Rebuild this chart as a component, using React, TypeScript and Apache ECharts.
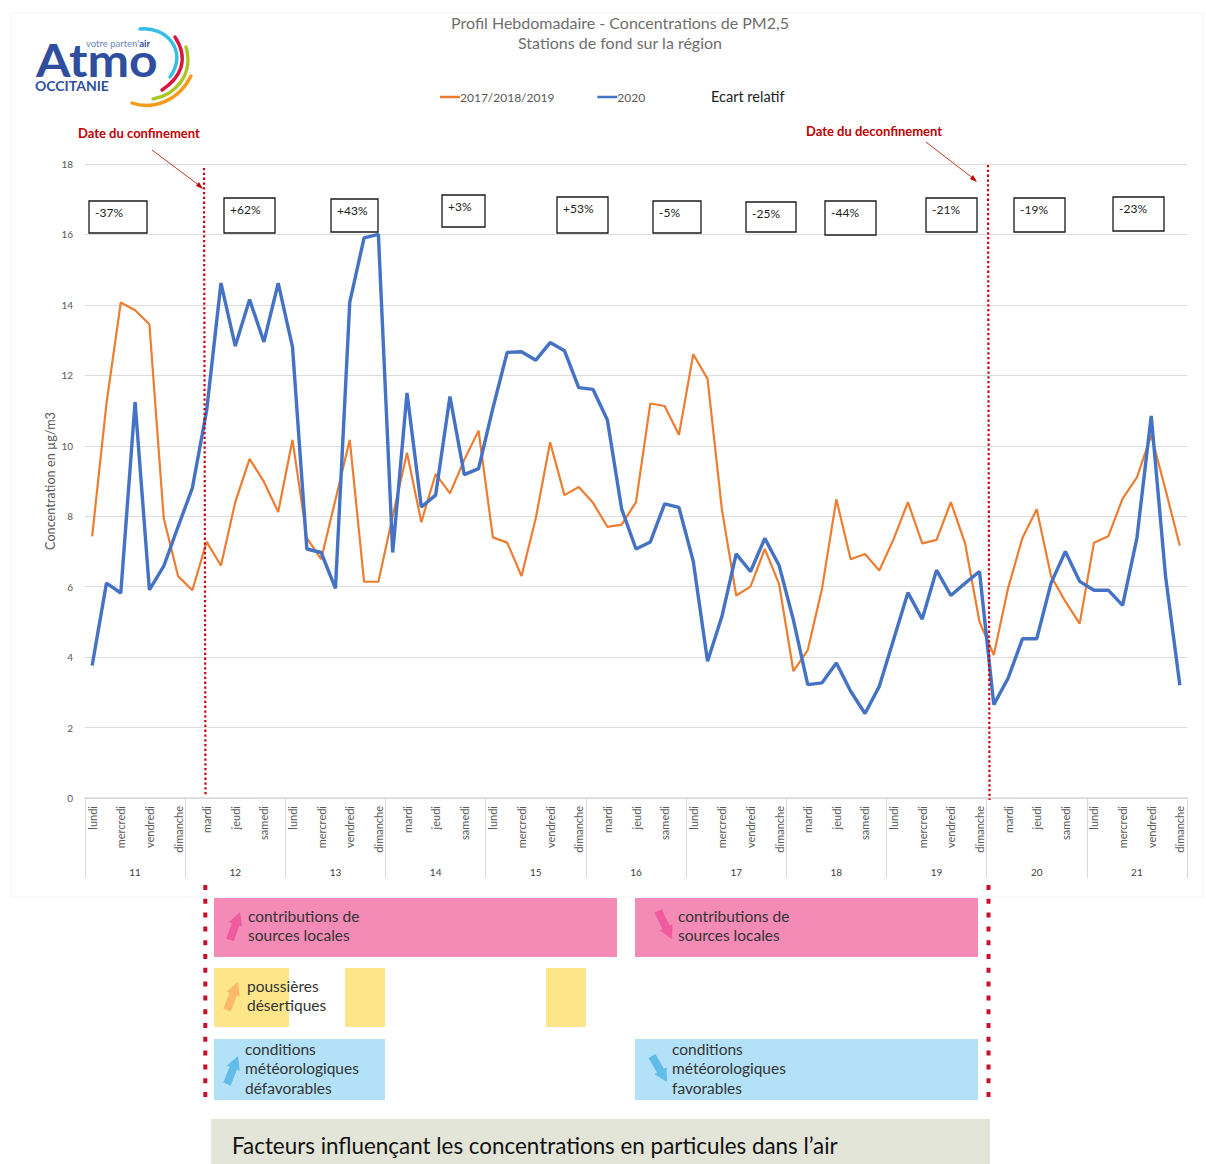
import React, { useEffect, useRef } from "react";
import * as echarts from "echarts";

const dayNames = ["lundi", "mardi", "mercredi", "jeudi", "vendredi", "samedi", "dimanche"];
const weeks = ["11", "12", "13", "14", "15", "16", "17", "18", "19", "20", "21"];
const days = weeks.flatMap((w) => dayNames.map((d) => `${d}|${w}`));

const reference = [
  7.43, 11.2, 14.07, 13.85, 13.45, 7.95, 6.3,
  5.9, 7.27, 6.6, 8.4, 9.63, 8.98, 8.12,
  10.17, 7.38, 6.78, 8.47, 10.17, 6.14, 6.14,
  8.0, 9.8, 7.83, 9.2, 8.65, 9.6, 10.43,
  7.4, 7.25, 6.3, 7.95, 10.1, 8.6, 8.83,
  8.38, 7.7, 7.76, 8.4, 11.2, 11.13, 10.31,
  12.6, 11.9, 8.2, 5.75, 6.0, 7.07, 6.07,
  3.6, 4.2, 5.95, 8.48, 6.78, 6.93, 6.46,
  7.35, 8.4, 7.23, 7.33, 8.4, 7.22, 5.0,
  4.06, 5.96, 7.38, 8.2, 6.3, 5.58, 4.95,
  7.25, 7.43, 8.5, 9.1, 10.3, 8.75, 7.16,
];
const year2020 = [
  3.76, 6.1, 5.82, 11.24, 5.91, 6.58, 7.7,
  8.8, 11.0, 14.62, 12.83, 14.15, 12.95, 14.62,
  12.8, 7.07, 6.97, 5.95, 14.08, 15.9, 16.0,
  6.97, 11.5, 8.26, 8.6, 11.4, 9.18, 9.35,
  11.07, 12.65, 12.67, 12.43, 12.93, 12.7, 11.65,
  11.6, 10.73, 8.2, 7.07, 7.27, 8.35, 8.25,
  6.72, 3.88, 5.15, 6.93, 6.43, 7.37, 6.6,
  5.05, 3.22, 3.27, 3.83, 3.03, 2.4, 3.17,
  4.5, 5.83, 5.08, 6.47, 5.75, 6.1, 6.43,
  2.65, 3.4, 4.52, 4.52, 6.1, 7.0, 6.15,
  5.9, 5.9, 5.47, 7.38, 10.85, 6.3, 3.2,
];
const relativeGaps = ["-37%", "+62%", "+43%", "+3%", "+53%", "-5%", "-25%", "-44%", "-21%", "-19%", "-23%"];
const gapBoxes = [
  [89, 201, 58, 32], [224, 198, 51, 35], [331, 199, 47, 33], [442, 195, 43, 32],
  [557, 197, 51, 36], [653, 201, 48, 32], [746, 202, 50, 30], [825, 201, 51, 34],
  [926, 198, 51, 34], [1014, 198, 51, 34], [1113, 197, 51, 34],
];

const FONT = "Lato";
const PINK = "#f38bb6";
const YELLOW = "#fde68a";
const SKY = "#b3e2f8";
const BLUE_LOGO = "#2f4f9e";
const ORANGE = "#ed7d31";
const BLUE = "#4472c4";

function arrow(x0: number, y0: number, x1: number, y1: number, fill: string, shaft = 4, head = 7, len = 13) {
  const d = Math.hypot(x1 - x0, y1 - y0);
  const ux = (x1 - x0) / d, uy = (y1 - y0) / d;
  const px = -uy, py = ux;
  const bx = x1 - ux * len, by = y1 - uy * len;
  return {
    type: "polygon", z: 20,
    shape: {
      points: [
        [x0 + px * shaft, y0 + py * shaft], [bx + px * shaft, by + py * shaft],
        [bx + px * head, by + py * head], [x1, y1],
        [bx - px * head, by - py * head], [bx - px * shaft, by - py * shaft],
        [x0 - px * shaft, y0 - py * shaft],
      ],
    },
    style: { fill },
  };
}
const rect = (x: number, y: number, w: number, h: number, fill: string) => ({
  type: "rect", z: 10, shape: { x, y, width: w, height: h }, style: { fill },
});
const label = (x: number, y: number, text: string, extra: any = {}) => ({
  type: "text", z: 30, x, y,
  style: { text, fontFamily: FONT, fontSize: 15.5, fill: "#333333", lineHeight: 19.5, ...extra },
});
const curve = (p: number[], stroke: string) => ({
  type: "bezierCurve", z: 20,
  shape: { x1: p[0], y1: p[1], cpx1: p[2], cpy1: p[3], cpx2: p[4], cpy2: p[5], x2: p[6], y2: p[7] },
  style: { stroke, lineWidth: 3.4, fill: "none", lineCap: "round" },
});
const vline = (x0: number, y0: number, x1: number, y1: number, lineWidth: number, lineDash: number[], stroke: string) => ({
  type: "line", z: 15, shape: { x1: x0, y1: y0, x2: x1, y2: y1 },
  style: { stroke, lineWidth, lineDash },
});

export default function App() {
  const ref = useRef<HTMLDivElement>(null);
  useEffect(() => {
    const chart = echarts.init(ref.current!, undefined, { renderer: "svg" });
    const graphic: any[] = [
      { type: "rect", z: 0, shape: { x: 11, y: 13, width: 1192, height: 884 }, style: { fill: "none", stroke: "#f4f4f4" } },
      // logo
      { type: "text", z: 20, x: 36, y: 47, scaleX: 1.08, style: { text: "Atmo", fontFamily: FONT, fontWeight: "bold", fontSize: 46, lineHeight: 25, fill: BLUE_LOGO } },
      { type: "text", z: 21, x: 35, y: 79, style: { text: "OCCITANIE", fontFamily: FONT, fontWeight: "bold", fontSize: 14, lineHeight: 12, fill: BLUE_LOGO } },
      {
        type: "text", z: 21, x: 86, y: 40,
        style: {
          text: "{a|votre parten'}{b|air}", fontFamily: FONT, fontSize: 9.5, fill: "#6f86bd",
          rich: { a: { fontFamily: FONT, fontSize: 9.5, lineHeight: 7, fill: "#6f86bd" }, b: { fontFamily: FONT, fontSize: 9.5, lineHeight: 7, fontWeight: "bold", fill: BLUE_LOGO } },
        },
      },
      curve([140, 29, 165, 26, 189, 50, 170, 77], "#35bde8"),
      curve([175, 37, 190, 60, 180, 78, 162, 90], "#d9163f"),
      curve([186, 47, 194, 75, 175, 95, 153, 99], "#a9c71f"),
      curve([191, 76, 178, 102, 152, 110, 132, 103], "#f59a1b"),
      // annotations
      { type: "text", z: 30, x: 78, y: 126, style: { text: "Date du confinement", fontFamily: FONT, fontWeight: "bold", fontSize: 13, fill: "#c00000" } },
      { type: "text", z: 30, x: 806, y: 124, style: { text: "Date du deconfinement", fontFamily: FONT, fontWeight: "bold", fontSize: 13, fill: "#c00000" } },
      { type: "line", z: 30, shape: { x1: 152, y1: 150, x2: 200, y2: 186 }, style: { stroke: "#c0392b", lineWidth: 1 } },
      { type: "polygon", z: 30, shape: { points: [[203, 189], [196, 186], [199, 182]] }, style: { fill: "#c00000" } },
      { type: "line", z: 30, shape: { x1: 926, y1: 142, x2: 974, y2: 179 }, style: { stroke: "#c0392b", lineWidth: 1 } },
      { type: "polygon", z: 30, shape: { points: [[977, 182], [970, 179], [973, 175]] }, style: { fill: "#c00000" } },
      // confinement lines
      vline(204, 168, 205.5, 796, 2.2, [2.3, 2.5], "#c8000f"),
      vline(988, 165, 989.5, 800, 2.2, [2.3, 2.5], "#c8000f"),
      vline(205.3, 885, 205.3, 1105, 4, [5, 8.8], "#c8102e"),
      vline(988.5, 885, 988.5, 1105, 4, [5, 8.8], "#c8102e"),
      { type: "text", z: 30, x: 711, y: 89, style: { text: "Ecart relatif", fontFamily: FONT, fontSize: 14.5, fill: "#222222" } },
      // factor panels
      rect(214, 898, 403, 59, PINK), rect(635, 898, 343, 59, PINK),
      rect(214, 968, 75, 59, YELLOW), rect(345, 968, 40, 59, YELLOW), rect(546, 968, 40, 59, YELLOW),
      rect(214, 1039, 171, 61, SKY), rect(635, 1039, 343, 61, SKY),
      arrow(230, 940, 240, 912, "#ef5b9c"), arrow(658, 911, 672, 939, "#ef5b9c"),
      arrow(227, 1010, 238, 982, "#fdb96a"),
      arrow(227, 1084, 238, 1056, "#62bcea"), arrow(652, 1056, 667, 1082, "#62bcea"),
      label(248, 906, "contributions de\nsources locales"),
      label(678, 906, "contributions de\nsources locales"),
      label(247, 976, "poussières\ndésertiques"),
      label(245, 1039, "conditions\nmétéorologiques\ndéfavorables"),
      label(672, 1039, "conditions\nmétéorologiques\nfavorables"),
      rect(211, 1119, 779, 45, "#e3e5d8"),
      { type: "text", z: 30, x: 232, y: 1134, style: { text: "Facteurs influençant les concentrations en particules dans l’air", fontFamily: FONT, fontSize: 22.4, fill: "#111111" } },
    ];
    relativeGaps.forEach((t, i) => {
      const [x, y, w, h] = gapBoxes[i];
      graphic.push({ type: "rect", z: 25, shape: { x, y, width: w, height: h }, style: { fill: "#ffffff", stroke: "#1a1a1a", lineWidth: 1.3 } });
      graphic.push({ type: "text", z: 26, x: x + 6, y: y + 5, style: { text: t, fontFamily: FONT, fontSize: 12, fill: "#222222" } });
    });

    chart.setOption({
      animation: false,
      backgroundColor: "#ffffff",
      textStyle: { fontFamily: FONT },
      title: {
        text: "Profil Hebdomadaire - Concentrations de PM2,5\nStations de fond sur la région",
        left: 615, top: 7, textAlign: "center",
        textStyle: { fontFamily: FONT, fontSize: 16, fontWeight: "normal", color: "#6e6e6e", lineHeight: 20 },
      },
      legend: {
        left: 440, top: 91, padding: 0, itemWidth: 20, itemHeight: 2.5, itemGap: 43, icon: "rect",
        data: ["2017/2018/2019", "2020"],
        textStyle: { fontFamily: FONT, fontSize: 12, color: "#595959", padding: [0, 0, 0, -5] },
      },
      grid: { left: 85, right: 19, top: 164, bottom: 366, containLabel: false },
      xAxis: [
        {
          type: "category", data: days, boundaryGap: true,
          axisLine: { show: true, lineStyle: { color: "#d9d9d9", width: 1.5 } },
          axisTick: { show: false },
          splitLine: { show: false },
          axisLabel: {
            interval: 1, rotate: 90, margin: 8, fontFamily: FONT, fontSize: 11, color: "#595959",
            formatter: (v: string) => v.split("|")[0],
          },
        },
        {
          type: "category", data: weeks, position: "bottom", boundaryGap: true,
          axisLine: { show: false },
          axisTick: { show: true, length: 80, lineStyle: { color: "#d9d9d9", width: 1 } },
          axisLabel: { margin: 69, fontFamily: FONT, fontSize: 10, color: "#404040" },
          splitLine: { show: false },
        },
      ],
      yAxis: {
        type: "value", min: 0, max: 18, interval: 2,
        name: "Concentration en µg/m3", nameLocation: "middle", nameGap: 29, nameMoveOverlap: false,
        nameTextStyle: { fontFamily: FONT, fontSize: 12.7, color: "#595959" },
        axisLine: { show: false }, axisTick: { show: false },
        axisLabel: { margin: 12, fontFamily: FONT, fontSize: 10, color: "#595959" },
        splitLine: { lineStyle: { color: "#dcdcdc", width: 1.2 } },
      },
      series: [
        { name: "2017/2018/2019", type: "line", data: reference, symbol: "none", lineStyle: { color: ORANGE, width: 2.2 }, itemStyle: { color: ORANGE } },
        { name: "2020", type: "line", data: year2020, symbol: "none", lineStyle: { color: BLUE, width: 3.4 }, itemStyle: { color: BLUE } },
      ],
      graphic,
    });
    return () => chart.dispose();
  }, []);
  return <div ref={ref} style={{ position: "absolute", left: 0, top: 0, width: 1206, height: 1164 }} />;
}
